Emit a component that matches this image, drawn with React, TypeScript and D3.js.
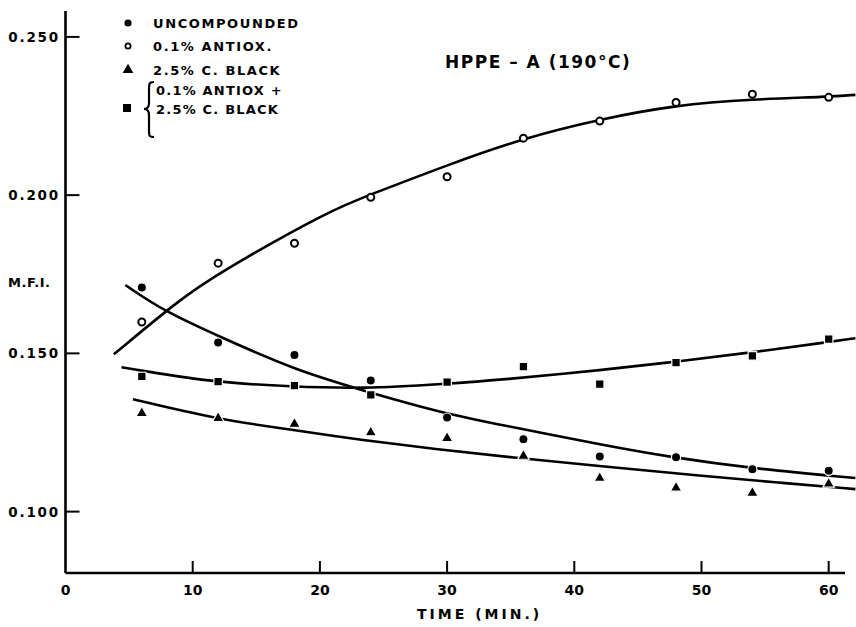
import React from 'react';
import * as d3 from 'd3';

// measured points (time in min, M.F.I.)
const times = [6, 12, 18, 24, 30, 36, 42, 48, 54, 60];
const uncompounded = [0.1708, 0.1534, 0.1495, 0.1414, 0.1297, 0.1229, 0.1174, 0.1172, 0.1134, 0.1129];
const antiox = [0.1599, 0.1785, 0.1848, 0.1993, 0.2058, 0.2180, 0.2234, 0.2293, 0.2319, 0.2309];
const carbonBlack = [0.1311, 0.1295, 0.1277, 0.1250, 0.1232, 0.1176, 0.1106, 0.1075, 0.1059, 0.1088];
const antioxCarbon = [0.1427, 0.1411, 0.1398, 0.1369, 0.1409, 0.1458, 0.1403, 0.1471, 0.1492, 0.1545];

// hand-drawn fitted curves
const uncompFitT = [4.7, 7.8, 12, 18, 23.2, 29.3, 34.2, 42.8, 47.3, 54, 62.1];
const uncompFitV = [0.1716, 0.1632, 0.1555, 0.1448, 0.1385, 0.1315, 0.1274, 0.1206, 0.1174, 0.1136, 0.1106];
const antioxFitT = [3.8, 9, 12, 20.8, 24.2, 30, 36, 42, 48, 54, 60, 62.1];
const antioxFitV = [0.1497, 0.1671, 0.1753, 0.1953, 0.2005, 0.2095, 0.2180, 0.2240, 0.2285, 0.2303, 0.2311, 0.2317];
const blackFitT = [5.3, 11.9, 17.9, 23.15, 29, 35.5, 42.8, 50, 56, 62.1];
const blackFitV = [0.1355, 0.1292, 0.1258, 0.1227, 0.1198, 0.1169, 0.1141, 0.1113, 0.1092, 0.1071];
const bothFitT = [4.4, 11.6, 17.9, 23.2, 30, 34.2, 42.4, 48, 54, 60.2, 62.1];
const bothFitV = [0.1456, 0.1408, 0.1395, 0.1388, 0.1404, 0.1416, 0.1448, 0.1474, 0.1503, 0.1537, 0.1548];

const xTicks = [10, 20, 30, 40, 50, 60];
const xTickLabels = ['0', '10', '20', '30', '40', '50', '60'];
const yTicks = [0.100, 0.150, 0.200, 0.250];
const yTickLabels = ['0.100', '0.150', '0.200', '0.250'];

const legendLabels = ['UNCOMPOUNDED', '0.1% ANTIOX.', '2.5% C. BLACK'];
const legendBraced = ['0.1% ANTIOX +', '2.5% C. BLACK'];

const FONT = '"DejaVu Sans", sans-serif';

export default function App() {
  const width = 856;
  const height = 627;

  const x = d3.scaleLinear().domain([0, 61.4]).range([65.5, 846.5]);
  const y = d3.scaleLinear().domain([0.0806, 0.258]).range([573, 11.6]);

  const line = d3.line<[number, number]>()
    .x(d => x(d[0]))
    .y(d => y(d[1]))
    .curve(d3.curveBasis);

  const zip = (t: number[], v: number[]) => t.map((tt, i) => [tt, v[i]] as [number, number]);

  const fits = [
    zip(uncompFitT, uncompFitV),
    zip(antioxFitT, antioxFitV),
    zip(blackFitT, blackFitV),
    zip(bothFitT, bothFitV),
  ];

  const tri = d3.symbol().type(d3.symbolTriangle).size(58)();
  const sq = d3.symbol().type(d3.symbolSquare).size(72)();
  const triLeg = d3.symbol().type(d3.symbolTriangle).size(50)();
  const sqLeg = d3.symbol().type(d3.symbolSquare).size(64)();

  const x0 = x(0);
  const yBase = y(0.0806);

  return (
    <svg width={width} height={height} style={{ position: 'absolute', left: 0, top: 0, background: '#fff' }}
      fontFamily={FONT} fontWeight="bold">
      {/* axes */}
      <line x1={x0} y1={yBase} x2={845} y2={yBase} stroke="#000" strokeWidth={2.6} />
      <line x1={x0} y1={yBase} x2={x0} y2={11} stroke="#000" strokeWidth={2.6} />
      {xTicks.map(t => (
        <line key={'xt' + t} x1={x(t)} x2={x(t)} y1={yBase} y2={yBase - 12} stroke="#000" strokeWidth={2} />
      ))}
      {yTicks.map(v => (
        <line key={'yt' + v} x1={x0} x2={x0 + 14} y1={y(v)} y2={y(v)} stroke="#000" strokeWidth={2} />
      ))}
      {[0, ...xTicks].map((t, i) => (
        <text key={'xl' + t} x={x(t)} y={yBase + 22} fontSize={14} textAnchor="middle">{xTickLabels[i]}</text>
      ))}
      {yTicks.map((v, i) => (
        <text key={'yl' + v} x={60} y={y(v) + 5} fontSize={13.5} textAnchor="end" letterSpacing={1.8}>{yTickLabels[i]}</text>
      ))}
      <text x={8} y={287} fontSize={13} letterSpacing={0.5}>M.F.I.</text>
      <text x={417} y={619} fontSize={14} letterSpacing={3}>TIME (MIN.)</text>
      <text x={445} y={68} fontSize={17} letterSpacing={1.5}>HPPE – A (190°C)</text>

      {/* fitted curves */}
      {fits.map((f, i) => (
        <path key={'fit' + i} d={line(f) || ''} fill="none" stroke="#000" strokeWidth={2.6} />
      ))}

      {/* data points */}
      {times.map((t, i) => (
        <circle key={'u' + t} cx={x(t)} cy={y(uncompounded[i])} r={4.6} fill="#000" stroke="#fff" strokeWidth={1.2} />
      ))}
      {times.map((t, i) => (
        <circle key={'a' + t} cx={x(t)} cy={y(antiox[i])} r={3.5} fill="#fff" stroke="#000" strokeWidth={2} />
      ))}
      {times.map((t, i) => (
        <path key={'b' + t} d={tri || ''} transform={`translate(${x(t)},${y(carbonBlack[i])})`} fill="#000" stroke="#fff" strokeWidth={1.2} />
      ))}
      {times.map((t, i) => (
        <path key={'s' + t} d={sq || ''} transform={`translate(${x(t)},${y(antioxCarbon[i])})`} fill="#000" stroke="#fff" strokeWidth={1.2} />
      ))}

      {/* legend */}
      <circle cx={128} cy={23} r={3.6} fill="#000" />
      <circle cx={128} cy={46} r={2.6} fill="#fff" stroke="#000" strokeWidth={1.8} />
      <path d={triLeg || ''} transform="translate(128,70)" fill="#000" />
      <path d={sqLeg || ''} transform="translate(127,108)" fill="#000" />
      {legendLabels.map((l, i) => (
        <text key={'lg' + i} x={153} y={[28, 51, 75][i]} fontSize={13} letterSpacing={1.6}>{l}</text>
      ))}
      <path d="M154,82 C149,82 149,84 149,90 L149,103 C149,107 147,109 144,109 C147,109 149,111 149,115 L149,130 C149,136 149,137 154,137"
        fill="none" stroke="#000" strokeWidth={2.2} />
      {legendBraced.map((l, i) => (
        <text key={'lb' + i} x={156} y={[95, 114][i]} fontSize={13} letterSpacing={1.2}>{l}</text>
      ))}
    </svg>
  );
}
